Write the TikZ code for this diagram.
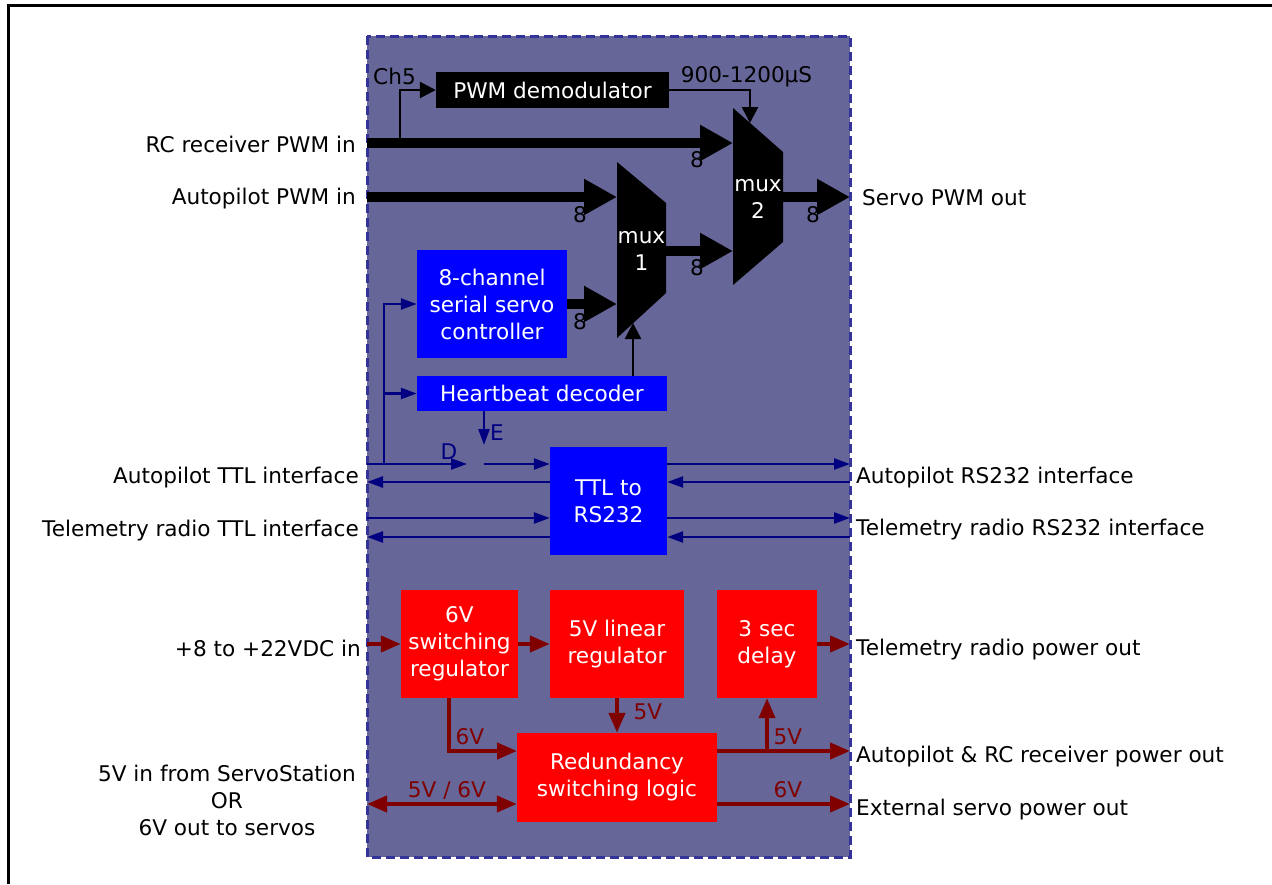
\documentclass[tikz,border=0pt]{standalone}
\usepackage{fontspec}
\setmainfont{DejaVu Sans}
\usetikzlibrary{arrows.meta,positioning,calc}
\definecolor{panelfill}{RGB}{102,102,153}
\definecolor{paneledge}{RGB}{51,51,153}
\definecolor{navyline}{RGB}{0,0,128}
\definecolor{pwrred}{RGB}{128,0,0}

\begin{document}
\begin{tikzpicture}[x=1pt, y=-1pt,
        every node/.style={font=\fontsize{21.6}{27}\selectfont, inner sep=0pt},
        blk/.style={rectangle, text=white, align=center, inner sep=0pt},
        demodbox/.style={blk, fill=black},
        sigbox/.style={blk, fill=blue},
        pwrbox/.style={blk, fill=red},
        bus/.style={line width=10pt, -{Triangle[length=33pt,width=34pt]}},
        ctl/.style={line width=2.5pt, -{Triangle[length=16pt,width=16pt]}},
        ttlline/.style={draw=navyline, line width=2.5pt, -{Triangle[length=16pt,width=11pt]}},
        pwrline/.style={draw=pwrred, line width=4pt, -{Triangle[length=20pt,width=16pt]}},
        pwrlabel/.style={text=pwrred},
        ttllabel/.style={text=navyline}
      ]
        % Seite + Rahmen
        \useasboundingbox (0,0) rectangle (1272,884);
        \fill[white] (0,0) rectangle (1272,884);
        \draw[line width=3pt] (8,884) -- (8,5) -- (1272,5);

        % Modul (gestrichelt)
        \draw[fill=panelfill, draw=paneledge, line width=3pt, dash pattern=on 9pt off 5pt]
          (367,36) rectangle (850,857);

        % Bloecke
        \node[demodbox, minimum width=233, minimum height=36] (demod) at (552.5,90) {PWM demodulator};
        \node[sigbox, minimum width=150, minimum height=108] (servo) at (492,304) {8-channel\\serial servo\\controller};
        \node[sigbox, minimum width=250, minimum height=35] (hb) at (542,393.5) {Heartbeat decoder};
        \node[sigbox, minimum width=117, minimum height=108] (ttl) at (608.5,501) {TTL to\\RS232};
        \node[pwrbox, minimum width=117, minimum height=108] (sw6) at (459.5,644) {6V\\switching\\regulator};
        \node[pwrbox, minimum width=134, minimum height=108] (lin5) at (617,644) {5V linear\\regulator};
        \node[pwrbox, minimum width=100, minimum height=108] (delay) at (767,644) {3 sec\\delay};
        \node[pwrbox, minimum width=200, minimum height=89] (redund) at (617,777.5) {Redundancy\\switching logic};

        % Multiplexer
        \coordinate (m1a) at (617,162); \coordinate (m1b) at (666,203);
        \coordinate (m1c) at (666,293); \coordinate (m1d) at (617,338);
        \coordinate (m2a) at (733,108); \coordinate (m2b) at (783,152);
        \coordinate (m2c) at (783,242); \coordinate (m2d) at (733,285);
        \fill (m1a) -- (m1b) -- (m1c) -- (m1d) -- cycle;
        \fill (m2a) -- (m2b) -- (m2c) -- (m2d) -- cycle;
        \node[text=white, align=center] (mux1) at (641.5,250.5) {mux\\1};
        \node[text=white, align=center] (mux2) at (758,198.5) {mux\\2};

        % Anschluesse am Modulrand / an den Muxen
        \coordinate (rcin) at (367,143);   \coordinate (apin) at (367,197);
        \coordinate (m2in1) at (733,143);  \coordinate (m2in2) at (733,251);
        \coordinate (m1in1) at (617,197);  \coordinate (m1in2) at (617,304);
        \coordinate (m1out) at (666,251);  \coordinate (m2out) at (783,197);
        \coordinate (servoout) at (850,197);
        \coordinate (ch5) at (400,143);
        \coordinate (m2top) at (750,123);  \coordinate (m1bot) at (633,323);

        % PWM-Pfade
        \draw[bus] (rcin) -- (m2in1);
        \draw[bus] (apin) -- (m1in1);
        \draw[bus] (servo.east |- m1in2) -- (m1in2);
        \draw[bus] (m1out) -- (m2in2);
        \draw[bus] (m2out) -- (servoout);
        \draw[ctl] (ch5) |- (demod.west);
        \draw[ctl] (demod.east) -| (m2top);
        \draw[ctl] (hb.north -| m1bot) -- (m1bot);

        \node at (697,160) {8};
        \node at (580,215) {8};
        \node at (697,268) {8};
        \node at (580,322) {8};
        \node at (813,215) {8};
        \node at (394.5,76) {Ch5};
        \node at (746.5,77) {900-1200µS};

        % TTL / RS232
        \coordinate (apttl) at (367,464);   \coordinate (apttlret) at (367,482);
        \coordinate (tmttl) at (367,518);   \coordinate (tmttlret) at (367,537);
        \coordinate (aprs) at (850,464);    \coordinate (aprsret) at (850,482);
        \coordinate (tmrs) at (850,518);    \coordinate (tmrsret) at (850,537);
        \coordinate (ttlbus) at (384,464);
        \coordinate (dout) at (467,464);    \coordinate (din) at (484,464);
        \coordinate (eout) at (484,445);

        \draw[ttlline] (apttl) -- (dout);
        \draw[ttlline] (din) -- (ttl.west |- din);
        \draw[ttlline] (ttl.west |- apttlret) -- (apttlret);
        \draw[ttlline] (tmttl) -- (ttl.west |- tmttl);
        \draw[ttlline] (ttl.west |- tmttlret) -- (tmttlret);
        \draw[ttlline] (ttl.east |- aprs) -- (aprs);
        \draw[ttlline] (aprsret) -- (ttl.east |- aprsret);
        \draw[ttlline] (ttl.east |- tmrs) -- (tmrs);
        \draw[ttlline] (tmrsret) -- (ttl.east |- tmrsret);
        \draw[ttlline] (ttlbus) |- (servo.west);
        \draw[ttlline] (ttlbus) |- (hb.west);
        \draw[ttlline] (hb.south -| eout) -- (eout);
        \node[ttllabel] at (449,452) {D};
        \node[ttllabel] at (497,433) {E};

        % Stromversorgung
        \coordinate (pwrin) at (367,644);   \coordinate (tmpwr) at (850,644);
        \coordinate (r6in) at (517,751);    \coordinate (sw6out) at (449,698);
        \coordinate (appwr) at (850,751);   \coordinate (extpwr) at (850,804);
        \coordinate (dbr) at (767,751);     \coordinate (sspwr) at (367,804);

        \draw[pwrline] (pwrin) -- (sw6.west);
        \draw[pwrline] (sw6.east) -- (lin5.west);
        \draw[pwrline] (delay.east) -- (tmpwr);
        \draw[pwrline] (sw6out) |- (r6in);
        \draw[pwrline] (lin5.south) -- (redund.north);
        \draw[pwrline] (redund.east |- appwr) -- (appwr);
        \draw[pwrline] (dbr) -- (delay.south);
        \draw[pwrline] (redund.east |- extpwr) -- (extpwr);
        \draw[pwrline, {Triangle[length=20pt,width=16pt]}-{Triangle[length=20pt,width=16pt]}] (sspwr) -- (redund.west |- sspwr);

        \node[pwrlabel] at (470,737) {6V};
        \node[pwrlabel] at (648,712) {5V};
        \node[pwrlabel] at (788,737) {5V};
        \node[pwrlabel] at (788,790) {6V};
        \node[pwrlabel] at (447,790) {5V / 6V};

        % Beschriftung links
        \node[anchor=east] (lrc) at (356,144) {RC receiver PWM in};
        \node[anchor=east] (lap) at (356,199) {Autopilot PWM in};
        \node[anchor=east] (lapttl) at (359,478) {Autopilot TTL interface};
        \node[anchor=east] (ltmttl) at (359,531) {Telemetry radio TTL interface};
        \node[anchor=east] (lpwr) at (361,648) {+8 to +22VDC in};
        \node[align=center] (lss) at (227,800) {5V in from ServoStation\\OR\\6V out to servos};

        % Beschriftung rechts
        \node[anchor=west] (lservo) at (862,198) {Servo PWM out};
        \node[anchor=west] (laprs) at (856,478) {Autopilot RS232 interface};
        \node[anchor=west] (ltmrs) at (856,530) {Telemetry radio RS232 interface};
        \node[anchor=west] (ltmpwr) at (856,650) {Telemetry radio power out};
        \node[anchor=west] (lappwr) at (856,757) {Autopilot \& RC receiver power out};
        \node[anchor=west] (lextpwr) at (856,810) {External servo power out};
      \end{tikzpicture}
\end{document}
